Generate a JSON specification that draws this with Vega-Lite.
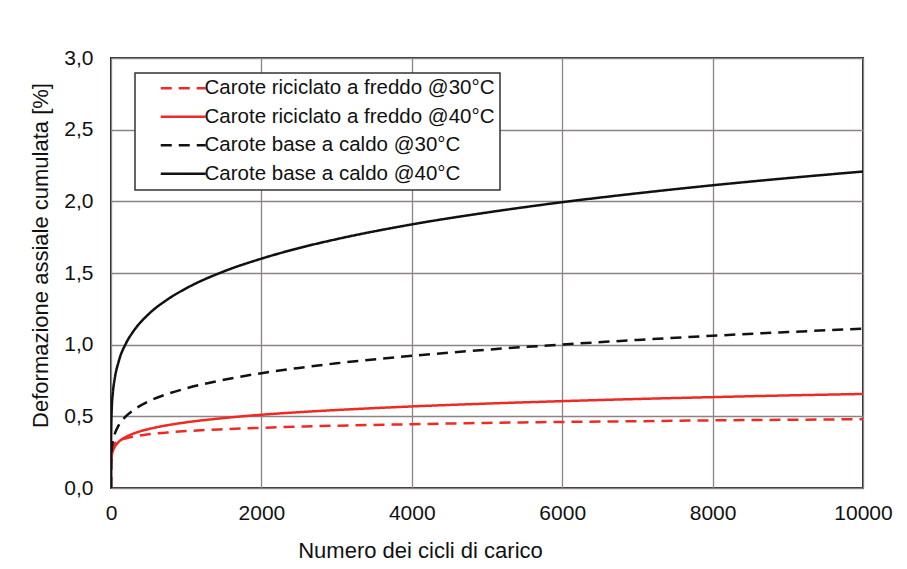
{
  "$schema": "https://vega.github.io/schema/vega-lite/v6.json",
  "width": 752,
  "height": 430,
  "autosize": {"type": "none"},
  "padding": {"left": 111, "top": 58, "right": 44, "bottom": 81},
  "background": "#ffffff",
  "datasets": {
    "curves": [
      {"N": 0, "def": 0, "serie": "Carote riciclato a freddo @30°C"},
      {"N": 1, "def": 0.224, "serie": "Carote riciclato a freddo @30°C"},
      {"N": 10, "def": 0.271, "serie": "Carote riciclato a freddo @30°C"},
      {"N": 25, "def": 0.292, "serie": "Carote riciclato a freddo @30°C"},
      {"N": 50, "def": 0.310, "serie": "Carote riciclato a freddo @30°C"},
      {"N": 100, "def": 0.328, "serie": "Carote riciclato a freddo @30°C"},
      {"N": 200, "def": 0.347, "serie": "Carote riciclato a freddo @30°C"},
      {"N": 300, "def": 0.359, "serie": "Carote riciclato a freddo @30°C"},
      {"N": 500, "def": 0.375, "serie": "Carote riciclato a freddo @30°C"},
      {"N": 750, "def": 0.387, "serie": "Carote riciclato a freddo @30°C"},
      {"N": 1000, "def": 0.397, "serie": "Carote riciclato a freddo @30°C"},
      {"N": 1500, "def": 0.410, "serie": "Carote riciclato a freddo @30°C"},
      {"N": 2000, "def": 0.420, "serie": "Carote riciclato a freddo @30°C"},
      {"N": 2500, "def": 0.428, "serie": "Carote riciclato a freddo @30°C"},
      {"N": 3000, "def": 0.435, "serie": "Carote riciclato a freddo @30°C"},
      {"N": 4000, "def": 0.445, "serie": "Carote riciclato a freddo @30°C"},
      {"N": 5000, "def": 0.454, "serie": "Carote riciclato a freddo @30°C"},
      {"N": 6000, "def": 0.461, "serie": "Carote riciclato a freddo @30°C"},
      {"N": 7000, "def": 0.466, "serie": "Carote riciclato a freddo @30°C"},
      {"N": 8000, "def": 0.472, "serie": "Carote riciclato a freddo @30°C"},
      {"N": 9000, "def": 0.476, "serie": "Carote riciclato a freddo @30°C"},
      {"N": 10000, "def": 0.480, "serie": "Carote riciclato a freddo @30°C"},

      {"N": 0, "def": 0, "serie": "Carote riciclato a freddo @40°C"},
      {"N": 1, "def": 0.156, "serie": "Carote riciclato a freddo @40°C"},
      {"N": 10, "def": 0.223, "serie": "Carote riciclato a freddo @40°C"},
      {"N": 25, "def": 0.258, "serie": "Carote riciclato a freddo @40°C"},
      {"N": 50, "def": 0.287, "serie": "Carote riciclato a freddo @40°C"},
      {"N": 100, "def": 0.320, "serie": "Carote riciclato a freddo @40°C"},
      {"N": 200, "def": 0.357, "serie": "Carote riciclato a freddo @40°C"},
      {"N": 300, "def": 0.380, "serie": "Carote riciclato a freddo @40°C"},
      {"N": 500, "def": 0.411, "serie": "Carote riciclato a freddo @40°C"},
      {"N": 750, "def": 0.438, "serie": "Carote riciclato a freddo @40°C"},
      {"N": 1000, "def": 0.458, "serie": "Carote riciclato a freddo @40°C"},
      {"N": 1500, "def": 0.488, "serie": "Carote riciclato a freddo @40°C"},
      {"N": 2000, "def": 0.511, "serie": "Carote riciclato a freddo @40°C"},
      {"N": 2500, "def": 0.529, "serie": "Carote riciclato a freddo @40°C"},
      {"N": 3000, "def": 0.544, "serie": "Carote riciclato a freddo @40°C"},
      {"N": 4000, "def": 0.569, "serie": "Carote riciclato a freddo @40°C"},
      {"N": 5000, "def": 0.589, "serie": "Carote riciclato a freddo @40°C"},
      {"N": 6000, "def": 0.606, "serie": "Carote riciclato a freddo @40°C"},
      {"N": 7000, "def": 0.621, "serie": "Carote riciclato a freddo @40°C"},
      {"N": 8000, "def": 0.634, "serie": "Carote riciclato a freddo @40°C"},
      {"N": 9000, "def": 0.646, "serie": "Carote riciclato a freddo @40°C"},
      {"N": 10000, "def": 0.656, "serie": "Carote riciclato a freddo @40°C"},

      {"N": 0, "def": 0, "serie": "Carote base a caldo @30°C"},
      {"N": 1, "def": 0.171, "serie": "Carote base a caldo @30°C"},
      {"N": 10, "def": 0.272, "serie": "Carote base a caldo @30°C"},
      {"N": 25, "def": 0.328, "serie": "Carote base a caldo @30°C"},
      {"N": 50, "def": 0.378, "serie": "Carote base a caldo @30°C"},
      {"N": 100, "def": 0.435, "serie": "Carote base a caldo @30°C"},
      {"N": 200, "def": 0.501, "serie": "Carote base a caldo @30°C"},
      {"N": 300, "def": 0.544, "serie": "Carote base a caldo @30°C"},
      {"N": 500, "def": 0.604, "serie": "Carote base a caldo @30°C"},
      {"N": 750, "def": 0.656, "serie": "Carote base a caldo @30°C"},
      {"N": 1000, "def": 0.695, "serie": "Carote base a caldo @30°C"},
      {"N": 1500, "def": 0.755, "serie": "Carote base a caldo @30°C"},
      {"N": 2000, "def": 0.801, "serie": "Carote base a caldo @30°C"},
      {"N": 2500, "def": 0.838, "serie": "Carote base a caldo @30°C"},
      {"N": 3000, "def": 0.870, "serie": "Carote base a caldo @30°C"},
      {"N": 4000, "def": 0.922, "serie": "Carote base a caldo @30°C"},
      {"N": 5000, "def": 0.965, "serie": "Carote base a caldo @30°C"},
      {"N": 6000, "def": 1.001, "serie": "Carote base a caldo @30°C"},
      {"N": 7000, "def": 1.033, "serie": "Carote base a caldo @30°C"},
      {"N": 8000, "def": 1.062, "serie": "Carote base a caldo @30°C"},
      {"N": 9000, "def": 1.088, "serie": "Carote base a caldo @30°C"},
      {"N": 10000, "def": 1.111, "serie": "Carote base a caldo @30°C"},

      {"N": 0, "def": 0, "serie": "Carote base a caldo @40°C"},
      {"N": 1, "def": 0.350, "serie": "Carote base a caldo @40°C"},
      {"N": 10, "def": 0.555, "serie": "Carote base a caldo @40°C"},
      {"N": 25, "def": 0.666, "serie": "Carote base a caldo @40°C"},
      {"N": 50, "def": 0.765, "serie": "Carote base a caldo @40°C"},
      {"N": 100, "def": 0.879, "serie": "Carote base a caldo @40°C"},
      {"N": 200, "def": 1.010, "serie": "Carote base a caldo @40°C"},
      {"N": 300, "def": 1.095, "serie": "Carote base a caldo @40°C"},
      {"N": 500, "def": 1.213, "serie": "Carote base a caldo @40°C"},
      {"N": 750, "def": 1.315, "serie": "Carote base a caldo @40°C"},
      {"N": 1000, "def": 1.393, "serie": "Carote base a caldo @40°C"},
      {"N": 1500, "def": 1.511, "serie": "Carote base a caldo @40°C"},
      {"N": 2000, "def": 1.600, "serie": "Carote base a caldo @40°C"},
      {"N": 2500, "def": 1.674, "serie": "Carote base a caldo @40°C"},
      {"N": 3000, "def": 1.736, "serie": "Carote base a caldo @40°C"},
      {"N": 4000, "def": 1.839, "serie": "Carote base a caldo @40°C"},
      {"N": 5000, "def": 1.922, "serie": "Carote base a caldo @40°C"},
      {"N": 6000, "def": 1.994, "serie": "Carote base a caldo @40°C"},
      {"N": 7000, "def": 2.056, "serie": "Carote base a caldo @40°C"},
      {"N": 8000, "def": 2.112, "serie": "Carote base a caldo @40°C"},
      {"N": 9000, "def": 2.162, "serie": "Carote base a caldo @40°C"},
      {"N": 10000, "def": 2.208, "serie": "Carote base a caldo @40°C"}
    ]
  },
  "data": {"name": "curves"},
  "mark": {"type": "line", "strokeWidth": 2.5, "interpolate": "monotone", "clip": true},
  "encoding": {
    "x": {
      "field": "N",
      "type": "quantitative",
      "scale": {"domain": [0, 10000], "nice": false, "zero": true},
      "axis": {
        "title": "Numero dei cicli di carico",
        "values": [0, 2000, 4000, 6000, 8000, 10000],
        "format": "d",
        "labelFlush": false,
        "titleX": 309,
        "titleY": 69,
        "titleAlign": "center",
        "titleBaseline": "alphabetic",
        "titleFontSize": 22,
        "labelFontSize": 21,
        "labelPadding": 14
      }
    },
    "y": {
      "field": "def",
      "type": "quantitative",
      "scale": {"domain": [0, 3], "nice": false},
      "axis": {
        "title": "Deformazione assiale cumulata [%]",
        "values": [0, 0.5, 1, 1.5, 2, 2.5, 3],
        "labelExpr": "replace(format(datum.value, '.1f'), '.', ',')",
        "labelFlush": false,
        "titleX": -64,
        "titleY": 197,
        "titleAngle": 270,
        "titleAlign": "center",
        "titleBaseline": "alphabetic",
        "titleFontSize": 22,
        "labelFontSize": 21,
        "labelPadding": 18
      }
    },
    "color": {
      "field": "serie",
      "type": "nominal",
      "title": null,
      "scale": {
        "domain": ["Carote riciclato a freddo @30°C", "Carote riciclato a freddo @40°C", "Carote base a caldo @30°C", "Carote base a caldo @40°C"],
        "range": ["#ee2a24", "#ee2a24", "#111111", "#111111"]
      }
    },
    "strokeDash": {
      "field": "serie",
      "type": "nominal",
      "title": null,
      "scale": {
        "domain": ["Carote riciclato a freddo @30°C", "Carote riciclato a freddo @40°C", "Carote base a caldo @30°C", "Carote base a caldo @40°C"],
        "range": [[11, 7], [1, 0], [11, 7], [1, 0]]
      }
    }
  },
  "config": {
    "font": "Liberation Sans",
    "view": {"stroke": "#2a2a2a", "strokeWidth": 2},
    "axis": {
      "domain": false,
      "ticks": false,
      "grid": true,
      "gridColor": "#8c8484",
      "gridWidth": 1.3,
      "gridOpacity": 1,
      "labelColor": "#111111",
      "titleColor": "#111111",
      "labelFont": "Liberation Sans",
      "titleFont": "Liberation Sans",
      "titleFontWeight": "normal"
    },
    "legend": {
      "orient": "none",
      "legendX": 24,
      "legendY": 15,
      "fillColor": "#ffffff",
      "strokeColor": "#333333",
      "strokeWidth": 1.5,
      "padding": 5,
      "symbolOffset": 33,
      "symbolType": "M-3,0H3",
      "symbolSize": 225,
      "symbolStrokeWidth": 2.5,
      "labelFontSize": 20.5,
      "labelFont": "Liberation Sans",
      "labelColor": "#111111",
      "labelOffset": 11,
      "labelLimit": 400,
      "rowPadding": 7.5
    }
  }
}
